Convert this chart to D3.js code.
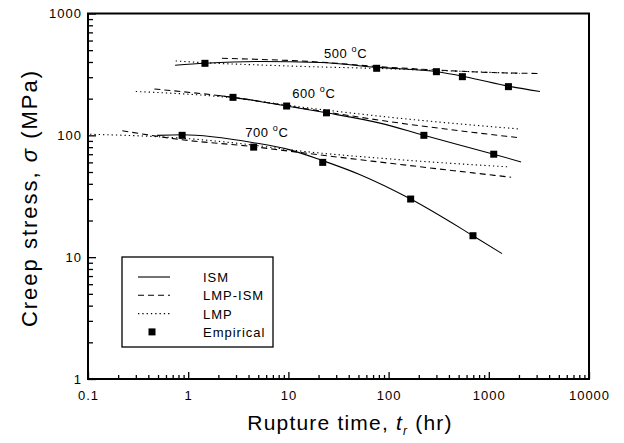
<!DOCTYPE html>
<html>
<head>
  <meta charset="utf-8">
  <title>Creep stress vs rupture time</title>
  <style>
    body { margin: 0; background: #fff; }
    text { font-family: "Liberation Sans", Arial, sans-serif; fill: #000; }
  </style>
</head>
<body>
  <svg width="624" height="443"></svg>
  <script src="https://d3js.org/d3.v7.min.js"></script>
  <script>
    // data: [rupture time (hr), stress (MPa)]
    var emp500 = [[1.47, 390], [76, 355], [300, 333], [545, 303], [1570, 251]];
    var emp600 = [[2.8, 205], [9.6, 174], [24, 153], [225, 100], [1120, 70]];
    var emp700 = [[0.87, 100], [4.5, 80], [22, 60], [166, 30], [695, 15]];

    var ism500 = [[0.74, 376], [1.47, 390], [5.2, 404], [20.7, 396], [78, 361], [318, 331], [578, 303], [1660, 251], [3240, 229]];
    var lmpIsm500 = [[2.17, 429], [5.2, 420], [16.4, 404], [78, 367], [297, 344], [1030, 328], [3240, 322]];
    var lmp500 = [[0.75, 408], [1.47, 394], [5.2, 378], [20.7, 364], [78, 354], [297, 341], [2050, 322]];

    var ism600 = [[1.98, 212], [2.8, 205], [9.6, 174], [24, 153], [82, 126], [225, 100], [1120, 70], [2100, 60.5]];
    var lmpIsm600 = [[0.46, 240], [2.8, 205], [13.1, 168], [130, 126], [1910, 96]];
    var lmp600 = [[0.3, 229], [2.8, 203], [13.1, 171], [130, 138], [1950, 113]];

    var ism700 = [[0.49, 100], [0.87, 101], [4.5, 87], [10.4, 76], [22, 62], [52, 47.5], [166, 30], [695, 15], [1355, 10.7]];
    var lmpIsm700 = [[0.22, 109], [0.87, 92], [4.3, 81], [10.4, 74], [103, 59], [1670, 45.3]];
    var lmp700 = [[0.105, 102], [0.87, 94.7], [4.3, 83.5], [10.4, 76], [103, 64], [1630, 55]];

    var tempLabels = [["500 ", 22.6, 431], ["600 ", 10.9, 203], ["700 ", 3.7, 97]];
    var xTickLabels = ["0.1", "1", "10", "100", "1000", "10000"];
    var yTickLabels = ["1", "10", "100", "1000"];
    var legendNames = ["ISM", "LMP-ISM", "LMP", "Empirical"];

    var svg = d3.select("svg");
    var plotL = 88, plotR = 589, plotT = 13.5, plotB = 379;

    var x = d3.scaleLog().domain([0.1, 10000]).range([plotL, plotR]);
    var y = d3.scaleLog().domain([1, 1000]).range([plotB, plotT]);

    var line = d3.line()
      .x(function (d) { return x(d[0]); })
      .y(function (d) { return y(d[1]); })
      .curve(d3.curveMonotoneX);

    var styles = {
      ism: null,
      lmpIsm: "6,4",
      lmp: "1.3,3"
    };

    var curves = [
      [ism500, styles.ism], [lmpIsm500, styles.lmpIsm], [lmp500, styles.lmp],
      [ism600, styles.ism], [lmpIsm600, styles.lmpIsm], [lmp600, styles.lmp],
      [ism700, styles.ism], [lmpIsm700, styles.lmpIsm], [lmp700, styles.lmp]
    ];

    svg.append("g").selectAll("path")
      .data(curves)
      .enter()
      .append("path")
      .attr("d", function (d) { return line(d[0]); })
      .attr("fill", "none")
      .attr("stroke", "#000")
      .attr("stroke-width", 1.1)
      .attr("stroke-dasharray", function (d) { return d[1]; });

    // empirical squares
    var pts = emp500.concat(emp600, emp700);
    svg.append("g").selectAll("rect")
      .data(pts)
      .enter()
      .append("rect")
      .attr("x", function (d) { return x(d[0]) - 3.5; })
      .attr("y", function (d) { return y(d[1]) - 3.5; })
      .attr("width", 7)
      .attr("height", 7)
      .attr("fill", "#000");

    // temperature labels
    var tl = svg.append("g").selectAll("text")
      .data(tempLabels)
      .enter()
      .append("text")
      .attr("x", function (d) { return x(d[1]); })
      .attr("y", function (d) { return y(d[2]); })
      .attr("font-size", 13)
      .attr("letter-spacing", 0.6);
    tl.append("tspan").text(function (d) { return d[0]; });
    tl.append("tspan").attr("dy", -6).attr("font-size", 9).text("o");
    tl.append("tspan").attr("dy", 6).text("C");

    // axes: major ticks with labels, minor ticks without
    function minors(lo, hi) {
      var out = [];
      for (var p = lo; p < hi; p++) {
        for (var k = 2; k < 10; k++) out.push(k * Math.pow(10, p));
      }
      return out;
    }

    var xMajor = xTickLabels.map(Number);
    var yMajor = yTickLabels.map(Number);

    var gx = svg.append("g").attr("transform", "translate(0," + plotB + ")");
    gx.call(d3.axisBottom(x).tickValues(xMajor).tickSize(-7).tickPadding(12)
      .tickFormat(function (d, i) { return xTickLabels[i]; }));
    gx.append("g").call(d3.axisBottom(x).tickValues(minors(-1, 4)).tickSize(-4).tickFormat(""));

    var gy = svg.append("g").attr("transform", "translate(" + plotL + ",0)");
    gy.call(d3.axisLeft(y).tickValues(yMajor).tickSize(-8).tickPadding(6)
      .tickFormat(function (d, i) { return yTickLabels[i]; }));
    gy.append("g").call(d3.axisLeft(y).tickValues(minors(0, 3)).tickSize(-5).tickFormat(""));

    svg.selectAll(".domain").remove();
    svg.selectAll(".tick line").attr("stroke", "#000").attr("stroke-width", 1.3);
    svg.selectAll(".tick text").attr("font-size", 13).attr("fill", "#000")
      .attr("letter-spacing", 1)
      .attr("font-family", "'Liberation Sans', Arial, sans-serif");

    // frame
    svg.append("rect")
      .attr("x", plotL).attr("y", plotT)
      .attr("width", plotR - plotL).attr("height", plotB - plotT)
      .attr("fill", "none").attr("stroke", "#000").attr("stroke-width", 2);

    // axis titles
    svg.append("text")
      .attr("transform", "translate(37,198) rotate(-90)")
      .attr("text-anchor", "middle")
      .attr("font-size", 22)
      .attr("letter-spacing", 2)
      .html("Creep stress, <tspan font-style='italic'>σ</tspan>  (MPa)");

    var xt = svg.append("text")
      .attr("x", 350)
      .attr("y", 430)
      .attr("text-anchor", "middle")
      .attr("font-size", 21)
      .attr("letter-spacing", 1.2);
    xt.append("tspan").text("Rupture time, ");
    xt.append("tspan").attr("font-style", "italic").text("t");
    xt.append("tspan").attr("font-size", 12).attr("dy", 5).attr("font-style", "italic").text("r");
    xt.append("tspan").attr("dy", -5).text(" (hr)");

    // legend
    var lg = svg.append("g");
    lg.append("rect")
      .attr("x", 122).attr("y", 257).attr("width", 151).attr("height", 90)
      .attr("fill", "#fff").attr("stroke", "#000").attr("stroke-width", 1.3);
    var legendDash = [styles.ism, styles.lmpIsm, styles.lmp, null];
    var items = lg.selectAll("g.item")
      .data(legendNames)
      .enter()
      .append("g")
      .attr("class", "item")
      .attr("transform", function (d, i) { return "translate(0," + (277 + i * 18.3) + ")"; });
    items.filter(function (d, i) { return i < 3; })
      .append("line")
      .attr("x1", 138).attr("x2", 170)
      .attr("stroke", "#000").attr("stroke-width", 1.1)
      .attr("stroke-dasharray", function (d, i) { return legendDash[i]; });
    items.filter(function (d, i) { return i === 3; })
      .append("rect")
      .attr("x", 148.5).attr("y", -3.5).attr("width", 7).attr("height", 7)
      .attr("fill", "#000");
    items.append("text")
      .attr("x", 203).attr("y", 5)
      .attr("font-size", 13)
      .attr("letter-spacing", 1)
      .text(function (d) { return d; });
  </script>
</body>
</html>
